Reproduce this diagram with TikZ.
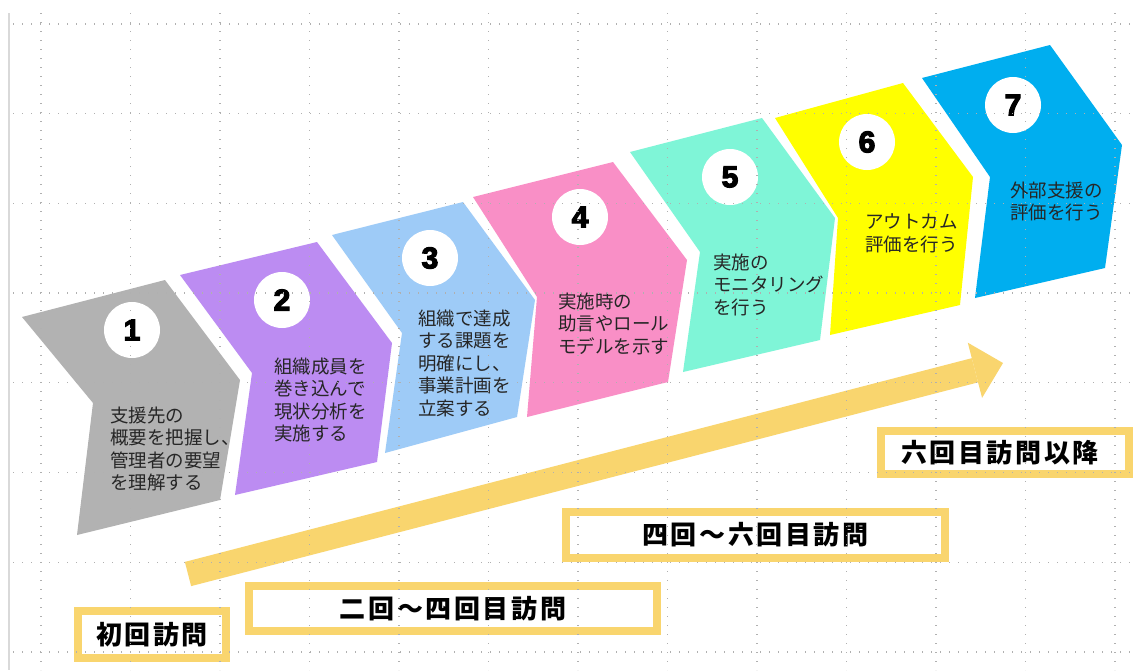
\documentclass[tikz,border=0pt]{standalone}
\usepackage{fontspec}
\usetikzlibrary{arrows.meta}
\newfontfamily\jp{Noto Sans CJK JP}
\newfontfamily\jplabel{Noto Sans CJK JP}[LetterSpace=10]
\newfontfamily\numfont{Liberation Sans}[BoldFeatures={FakeBold=4}]
\definecolor{c1}{HTML}{B2B2B2}
\definecolor{c2}{HTML}{BC8CF2}
\definecolor{c3}{HTML}{9ECBF7}
\definecolor{c4}{HTML}{F98FC6}
\definecolor{c5}{HTML}{7FF5D7}
\definecolor{c6}{HTML}{FFFF00}
\definecolor{c7}{HTML}{00AEEF}
\definecolor{bar}{HTML}{F9D56E}
\definecolor{txt}{HTML}{262626}
\definecolor{gridc}{HTML}{B0B0B0}
\begin{document}
\begin{tikzpicture}[x=1pt,y=-1pt,
  numc/.style={circle, fill=white, minimum size=56pt, inner sep=0pt,
    font=\numfont\bfseries\fontsize{30}{30}\selectfont},
  steptext/.style={anchor=north west, align=left, inner sep=0pt, text=txt,
    font=\jp\fontsize{18.5}{22.5}\selectfont},
  visitbox/.style={draw=bar, line width=8pt, fill=white, inner sep=0pt, text=black,
    font=\jplabel\bfseries\fontsize{26}{26}\selectfont},
  gridline/.style={line width=1.3pt, draw=gridc, dash pattern=on 1.3pt off 7.7pt}]
\useasboundingbox (0,0) rectangle (1135,670);
\fill[white] (0,0) rectangle (1135,670);
\draw[line width=2pt, gray!30] (9,13) -- (9,670);

% chevrons
\fill[c1] (22,317) -- (165,280) -- (240,380) -- (220,500) -- (77,535) -- (93,403) -- cycle;
\fill[c2] (180,275) -- (317,242) -- (392,343) -- (377,462) -- (235,495) -- (252,373) -- cycle;
\fill[c3] (332,235) -- (463,202) -- (535,300) -- (517,417) -- (385,453) -- (402,333) -- cycle;
\fill[c4] (473,197) -- (613,162) -- (687,260) -- (668,382) -- (527,417) -- (537,297) -- cycle;
\fill[c5] (630,152) -- (762,118) -- (835,218) -- (820,340) -- (683,372) -- (700,252) -- cycle;
\fill[c6] (775,118) -- (903,83) -- (973,177) -- (960,305) -- (830,335) -- (838,218) -- cycle;
\fill[c7] (922,78) -- (1050,45) -- (1122,145) -- (1105,268) -- (975,298) -- (990,177) -- cycle;

% numbers
\node[numc] (n1) at (132,330) {1};
\node[numc] (n2) at (282,300) {2};
\node[numc] (n3) at (430,258) {3};
\node[numc] (n4) at (580,217) {4};
\node[numc] (n5) at (730,177) {5};
\node[numc] (n6) at (867,142) {6};
\node[numc] (n7) at (1013,105) {7};

% step texts
\node[steptext] (t1) at (110,406.7) {支援先の\\概要を把握し、\\管理者の要望\\を理解する};
\node[steptext] (t2) at (274,357.7) {組織成員を\\巻き込んで\\現状分析を\\実施する};
\node[steptext] (t3) at (418,309.7) {組織で達成\\する課題を\\明確にし、\\事業計画を\\立案する};
\node[steptext] (t4) at (558,292.7) {実施時の\\助言やロール\\モデルを示す};
\node[steptext] (t5) at (713,253.7) {実施の\\モニタリング\\を行う};
\node[steptext] (t6) at (865,213.7) {アウトカム\\評価を行う};
\node[steptext] (t7) at (1010,181.7) {外部支援の\\評価を行う};

% big arrow
\coordinate (arrowstart) at (188,574);
\coordinate (arrowend) at (1003,363);
\draw[bar, line width=25pt, -{Triangle[length=29pt,width=57pt,line width=0pt]}] (arrowstart) -- (arrowend);

% visit boxes
\node[visitbox, minimum width=148pt, minimum height=47pt] (b1) at (152,634.5) {初回訪問};
\node[visitbox, minimum width=408pt, minimum height=45pt] (b2) at (453,608.5) {二回～四回目訪問};
\node[visitbox, minimum width=379pt, minimum height=46pt] (b3) at (755.5,535) {四回～六回目訪問};
\node[visitbox, minimum width=248pt, minimum height=43pt] (b4) at (1005,452.5) {六回目訪問以降\hspace*{10pt}};

% grid overlay
\foreach \i in {0,...,12} \draw[gridline] ({41+89.5*\i},13) -- ({41+89.5*\i},670);
\foreach \j in {0,...,7} \draw[gridline] (13,{24+89.7*\j}) -- (1135,{24+89.7*\j});
\end{tikzpicture}
\end{document}
